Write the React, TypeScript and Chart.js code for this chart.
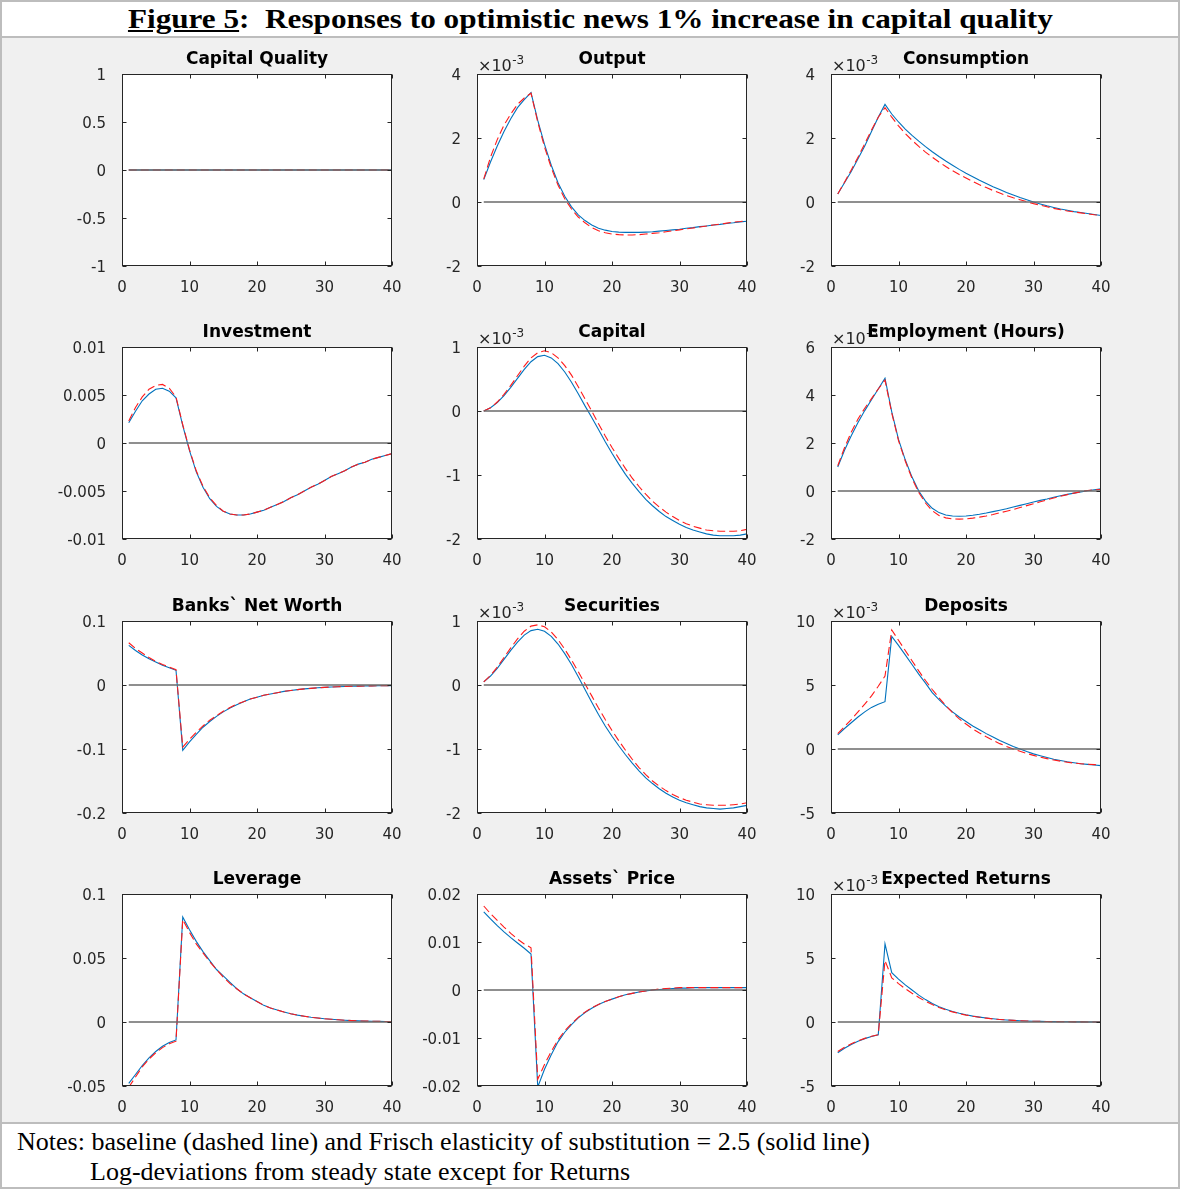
import React, { useEffect, useRef } from 'react';
import { Chart, registerables } from 'chart.js';

Chart.register(...registerables);

const SANS = '"DejaVu Sans", "Liberation Sans", Arial, sans-serif';
const SERIF = '"Liberation Serif", "DejaVu Serif", serif';

// ---------- data ----------
const periods = [1, 2, 3, 4, 5, 6, 7, 8, 9, 10, 11, 12, 13, 14, 15, 16, 17, 18, 19, 20,
  21, 22, 23, 24, 25, 26, 27, 28, 29, 30, 31, 32, 33, 34, 35, 36, 37, 38, 39, 40];
const xTicks = [0, 10, 20, 30, 40];

// Capital Quality
const capQualBase = [0, 0, 0, 0, 0, 0, 0, 0, 0, 0, 0, 0, 0, 0, 0, 0, 0, 0, 0, 0,
  0, 0, 0, 0, 0, 0, 0, 0, 0, 0, 0, 0, 0, 0, 0, 0, 0, 0, 0, 0];
const capQualFrisch = [0, 0, 0, 0, 0, 0, 0, 0, 0, 0, 0, 0, 0, 0, 0, 0, 0, 0, 0, 0,
  0, 0, 0, 0, 0, 0, 0, 0, 0, 0, 0, 0, 0, 0, 0, 0, 0, 0, 0, 0];
const capQualTicks = [-1, -0.5, 0, 0.5, 1];

// Output (x 10^-3)
const outputBase = [0.72, 1.4, 1.95, 2.4, 2.75, 3.05, 3.25, 3.4, 2.5, 1.72, 1.07, 0.53, 0.1, -0.22, -0.47, -0.65,
  -0.8, -0.9, -0.96, -1.0, -1.02, -1.03, -1.03, -1.02, -1.0, -0.98, -0.96, -0.93, -0.9, -0.87, -0.84, -0.81,
  -0.78, -0.75, -0.72, -0.69, -0.66, -0.63, -0.61, -0.58];
const outputFrisch = [0.7, 1.25, 1.75, 2.2, 2.6, 2.95, 3.2, 3.42, 2.55, 1.8, 1.15, 0.6, 0.18, -0.15, -0.4, -0.58,
  -0.72, -0.82, -0.88, -0.92, -0.94, -0.95, -0.95, -0.95, -0.94, -0.93, -0.91, -0.89, -0.87, -0.85, -0.82, -0.8,
  -0.77, -0.75, -0.72, -0.7, -0.67, -0.65, -0.62, -0.6];
const outputTicks = [-2, 0, 2, 4];

// Consumption (x 10^-3)
const consBase = [0.25, 0.62, 1.0, 1.4, 1.82, 2.25, 2.65, 2.95, 2.65, 2.38, 2.14, 1.93, 1.74, 1.56, 1.4, 1.25,
  1.11, 0.98, 0.86, 0.75, 0.64, 0.54, 0.45, 0.36, 0.28, 0.2, 0.13, 0.07, 0.01, -0.05, -0.1, -0.15,
  -0.2, -0.24, -0.28, -0.31, -0.34, -0.37, -0.4, -0.42];
const consFrisch = [0.25, 0.6, 0.95, 1.35, 1.75, 2.2, 2.65, 3.05, 2.75, 2.5, 2.28, 2.08, 1.9, 1.73, 1.57, 1.42,
  1.28, 1.15, 1.02, 0.9, 0.79, 0.68, 0.58, 0.48, 0.39, 0.3, 0.22, 0.14, 0.07, 0.0, -0.06, -0.12,
  -0.17, -0.22, -0.26, -0.3, -0.33, -0.36, -0.39, -0.42];
const consTicks = [-2, 0, 2, 4];

// Investment
const invBase = [0.0023, 0.0037, 0.0048, 0.0056, 0.006, 0.0061, 0.0057, 0.0048, 0.0019, -0.0007, -0.0029, -0.0045,
  -0.0057, -0.0065, -0.0071, -0.0074, -0.0075, -0.0075, -0.0074, -0.0072, -0.007, -0.0067, -0.0064, -0.0061,
  -0.0057, -0.0054, -0.005, -0.0046, -0.0043, -0.0039, -0.0035, -0.0032, -0.0029, -0.0025, -0.0022, -0.002,
  -0.0017, -0.0015, -0.0013, -0.0011];
const invFrisch = [0.0021, 0.0033, 0.0044, 0.0051, 0.0056, 0.0057, 0.0054, 0.0047, 0.0018, -0.0008, -0.003, -0.0046,
  -0.0058, -0.0066, -0.0071, -0.0074, -0.0075, -0.0075, -0.0074, -0.0072, -0.007, -0.0067, -0.0064, -0.0061,
  -0.0057, -0.0054, -0.005, -0.0046, -0.0043, -0.0039, -0.0035, -0.0032, -0.0029, -0.0025, -0.0022, -0.002,
  -0.0017, -0.0015, -0.0013, -0.0011];
const invTicks = [-0.01, -0.005, 0, 0.005, 0.01];

// Capital (x 10^-3)
const capBase = [0.0, 0.05, 0.14, 0.26, 0.4, 0.55, 0.7, 0.83, 0.91, 0.94, 0.91, 0.83, 0.71, 0.56, 0.38, 0.19,
  0.0, -0.2, -0.39, -0.57, -0.74, -0.9, -1.05, -1.18, -1.3, -1.41, -1.5, -1.58, -1.65, -1.71, -1.76, -1.8,
  -1.83, -1.86, -1.87, -1.88, -1.88, -1.88, -1.87, -1.85];
const capFrisch = [0.0, 0.05, 0.13, 0.24, 0.37, 0.51, 0.65, 0.77, 0.85, 0.87, 0.83, 0.74, 0.61, 0.45, 0.27, 0.08,
  -0.1, -0.29, -0.48, -0.66, -0.83, -0.99, -1.13, -1.26, -1.38, -1.48, -1.57, -1.65, -1.71, -1.77, -1.82, -1.86,
  -1.89, -1.92, -1.94, -1.95, -1.95, -1.95, -1.94, -1.92];
const capTicks = [-2, -1, 0, 1];

// Employment (Hours) (x 10^-3)
const empBase = [1.05, 1.8, 2.45, 3.0, 3.45, 3.85, 4.25, 4.62, 3.25, 2.1, 1.25, 0.52, -0.06, -0.5, -0.82, -1.02,
  -1.12, -1.16, -1.17, -1.16, -1.13, -1.09, -1.04, -0.98, -0.91, -0.84, -0.77, -0.69, -0.61, -0.53, -0.45, -0.37,
  -0.29, -0.22, -0.15, -0.09, -0.03, 0.02, 0.05, 0.06];
const empFrisch = [1.0, 1.7, 2.3, 2.85, 3.35, 3.8, 4.25, 4.7, 3.3, 2.15, 1.3, 0.58, 0.0, -0.42, -0.72, -0.9,
  -1.0, -1.04, -1.05, -1.04, -1.01, -0.97, -0.92, -0.86, -0.8, -0.74, -0.67, -0.6, -0.53, -0.46, -0.39, -0.33,
  -0.26, -0.2, -0.14, -0.09, -0.04, 0.01, 0.05, 0.09];
const empTicks = [-2, 0, 2, 4, 6];

// Banks` Net Worth
const banksBase = [0.066, 0.057, 0.05, 0.043, 0.037, 0.032, 0.028, 0.024, -0.097, -0.085, -0.074, -0.064, -0.055,
  -0.048, -0.041, -0.035, -0.03, -0.026, -0.022, -0.019, -0.016, -0.014, -0.012, -0.01, -0.0085, -0.0072, -0.0061,
  -0.0052, -0.0044, -0.0037, -0.0032, -0.0027, -0.0023, -0.002, -0.0017, -0.0015, -0.0013, -0.0011, -0.001, -0.0009];
const banksFrisch = [0.062, 0.054, 0.047, 0.041, 0.036, 0.031, 0.027, 0.023, -0.102, -0.089, -0.077, -0.066, -0.057,
  -0.049, -0.042, -0.036, -0.031, -0.026, -0.022, -0.019, -0.016, -0.014, -0.012, -0.01, -0.0085, -0.0072, -0.0061,
  -0.0052, -0.0044, -0.0037, -0.0032, -0.0027, -0.0023, -0.002, -0.0017, -0.0015, -0.0013, -0.0011, -0.001, -0.0009];
const banksTicks = [-0.2, -0.1, 0, 0.1];

// Securities (x 10^-3)
const secBase = [0.05, 0.15, 0.28, 0.43, 0.58, 0.72, 0.84, 0.92, 0.94, 0.91, 0.83, 0.71, 0.56, 0.39, 0.21, 0.02,
  -0.17, -0.36, -0.54, -0.71, -0.87, -1.02, -1.16, -1.29, -1.4, -1.5, -1.58, -1.65, -1.71, -1.76, -1.8, -1.83,
  -1.86, -1.87, -1.88, -1.88, -1.88, -1.87, -1.86, -1.84];
const secFrisch = [0.05, 0.14, 0.26, 0.4, 0.54, 0.67, 0.78, 0.85, 0.87, 0.84, 0.76, 0.64, 0.49, 0.32, 0.13, -0.07,
  -0.27, -0.46, -0.64, -0.8, -0.95, -1.09, -1.22, -1.34, -1.45, -1.54, -1.62, -1.69, -1.75, -1.8, -1.84, -1.87,
  -1.9, -1.92, -1.93, -1.94, -1.93, -1.92, -1.9, -1.88];
const secTicks = [-2, -1, 0, 1];

// Deposits (x 10^-3)
const depBase = [1.2, 1.75, 2.3, 2.9, 3.5, 4.15, 4.9, 5.7, 9.3, 8.5, 7.7, 6.9, 6.1, 5.35, 4.65, 4.0,
  3.4, 2.85, 2.35, 1.95, 1.57, 1.25, 0.95, 0.67, 0.42, 0.2, 0.0, -0.18, -0.35, -0.5, -0.63, -0.75,
  -0.86, -0.95, -1.03, -1.1, -1.15, -1.19, -1.22, -1.25];
const depFrisch = [1.1, 1.6, 2.05, 2.5, 2.9, 3.25, 3.5, 3.7, 8.8, 8.1, 7.35, 6.6, 5.85, 5.15, 4.4, 3.85,
  3.35, 2.9, 2.5, 2.15, 1.8, 1.5, 1.2, 0.93, 0.67, 0.43, 0.2, 0.0, -0.2, -0.38, -0.53, -0.67,
  -0.8, -0.9, -1.0, -1.08, -1.15, -1.2, -1.25, -1.3];
const depTicks = [-5, 0, 5, 10];

// Leverage
const levBase = [-0.051, -0.043, -0.035, -0.029, -0.024, -0.02, -0.017, -0.015, 0.08, 0.07, 0.061, 0.054, 0.047,
  0.041, 0.035, 0.03, 0.026, 0.022, 0.019, 0.016, 0.013, 0.011, 0.0093, 0.0078, 0.0065, 0.0054, 0.0045, 0.0037,
  0.0031, 0.0025, 0.0021, 0.0017, 0.0014, 0.0011, 0.0009, 0.0007, 0.0006, 0.0005, 0.0004, 0.0003];
const levFrisch = [-0.048, -0.041, -0.034, -0.028, -0.023, -0.019, -0.016, -0.014, 0.082, 0.072, 0.063, 0.055, 0.048,
  0.041, 0.036, 0.031, 0.026, 0.022, 0.019, 0.016, 0.013, 0.011, 0.0093, 0.0078, 0.0065, 0.0054, 0.0045, 0.0037,
  0.0031, 0.0025, 0.0021, 0.0017, 0.0014, 0.0011, 0.0009, 0.0007, 0.0006, 0.0005, 0.0004, 0.0003];
const levTicks = [-0.05, 0, 0.05, 0.1];

// Assets` Price
const priceBase = [0.0175, 0.0159, 0.0145, 0.0131, 0.0118, 0.0106, 0.0096, 0.0088, -0.0186, -0.0155, -0.0128,
  -0.0104, -0.0085, -0.007, -0.0057, -0.0046, -0.0037, -0.003, -0.0024, -0.0019, -0.0014, -0.001, -0.0007, -0.0004,
  -0.0002, 0.0, 0.0002, 0.0003, 0.0004, 0.0005, 0.0005, 0.0005, 0.0005, 0.0005, 0.0005, 0.0005, 0.0005, 0.0005,
  0.0005, 0.0005];
const priceFrisch = [0.0163, 0.0148, 0.0134, 0.0121, 0.0109, 0.0098, 0.0087, 0.0075, -0.0202, -0.0165, -0.0135,
  -0.0108, -0.0088, -0.0072, -0.0058, -0.0047, -0.0038, -0.003, -0.0024, -0.0019, -0.0014, -0.001, -0.0007, -0.0004,
  -0.0002, 0.0, 0.0001, 0.0002, 0.0003, 0.0004, 0.0004, 0.0005, 0.0005, 0.0005, 0.0005, 0.0005, 0.0005, 0.0005,
  0.0005, 0.0005];
const priceTicks = [-0.02, -0.01, 0, 0.01, 0.02];

// Expected Returns (x 10^-3)
const retBase = [-2.3, -1.98, -1.7, -1.47, -1.28, -1.12, -1.0, 4.8, 3.45, 3.0, 2.6, 2.25, 1.92, 1.62, 1.36, 1.14,
  0.95, 0.79, 0.65, 0.54, 0.45, 0.37, 0.3, 0.24, 0.2, 0.16, 0.13, 0.1, 0.08, 0.06, 0.05, 0.04,
  0.03, 0.02, 0.02, 0.01, 0.01, 0.0, 0.0, 0.0];
const retFrisch = [-2.4, -2.05, -1.75, -1.5, -1.3, -1.13, -1.0, 6.1, 3.85, 3.35, 2.9, 2.5, 2.1, 1.75, 1.45, 1.2,
  0.99, 0.82, 0.68, 0.56, 0.46, 0.38, 0.31, 0.25, 0.2, 0.16, 0.13, 0.1, 0.08, 0.06, 0.05, 0.04,
  0.03, 0.02, 0.02, 0.01, 0.01, 0.0, 0.0, 0.0];
const retTicks = [-5, 0, 5, 10];

const zeroLine = periods.map(() => 0);

type Spec = { title: string; base: number[]; frisch: number[]; ticks: number[]; exponent: string | null };

const panels: Spec[] = [
  { title: 'Capital Quality', base: capQualBase, frisch: capQualFrisch, ticks: capQualTicks, exponent: null },
  { title: 'Output', base: outputBase, frisch: outputFrisch, ticks: outputTicks, exponent: '-3' },
  { title: 'Consumption', base: consBase, frisch: consFrisch, ticks: consTicks, exponent: '-3' },
  { title: 'Investment', base: invBase, frisch: invFrisch, ticks: invTicks, exponent: null },
  { title: 'Capital', base: capBase, frisch: capFrisch, ticks: capTicks, exponent: '-3' },
  { title: 'Employment (Hours)', base: empBase, frisch: empFrisch, ticks: empTicks, exponent: '-3' },
  { title: 'Banks` Net Worth', base: banksBase, frisch: banksFrisch, ticks: banksTicks, exponent: null },
  { title: 'Securities', base: secBase, frisch: secFrisch, ticks: secTicks, exponent: '-3' },
  { title: 'Deposits', base: depBase, frisch: depFrisch, ticks: depTicks, exponent: '-3' },
  { title: 'Leverage', base: levBase, frisch: levFrisch, ticks: levTicks, exponent: null },
  { title: 'Assets` Price', base: priceBase, frisch: priceFrisch, ticks: priceTicks, exponent: null },
  { title: 'Expected Returns', base: retBase, frisch: retFrisch, ticks: retTicks, exponent: '-3' },
];

// ---------- layout ----------
const COL_LEFT = [122, 477, 831];
const ROW_TOP = [74, 347, 621, 894];
const PLOT_W = 270;
const PLOT_H = 192;
const AXIS_W = 70;
const TITLE_H = 45;
const XAXIS_H = 35;
const PAD_R = 26;

const fmt = (v: number) => String(Math.round(v * 1e6) / 1e6);

function makeFramePlugin(exponent: string | null) {
  return {
    id: 'matlabFrame',
    beforeDraw(chart: any) {
      const { ctx, chartArea: a } = chart;
      ctx.save();
      ctx.fillStyle = '#ffffff';
      ctx.fillRect(a.left, a.top, a.right - a.left, a.bottom - a.top);
      if (exponent) {
        ctx.fillStyle = '#262626';
        ctx.textAlign = 'left';
        ctx.textBaseline = 'alphabetic';
        ctx.font = `16px ${SANS}`;
        const base = '\u00d710';
        ctx.fillText(base, a.left + 1, a.top - 3);
        const w = ctx.measureText(base).width;
        ctx.font = `12px ${SANS}`;
        ctx.fillText(exponent, a.left + 1 + w + 0.5, a.top - 10);
      }
      ctx.restore();
    },
    afterDraw(chart: any) {
      const { ctx, chartArea: a, scales } = chart;
      ctx.save();
      ctx.strokeStyle = '#262626';
      ctx.lineWidth = 1;
      const L = Math.round(a.left) + 0.5;
      const R = Math.round(a.right) - 0.5;
      const T = Math.round(a.top) + 0.5;
      const B = Math.round(a.bottom) - 0.5;
      ctx.strokeRect(L, T, R - L, B - T);
      const tl = 4;
      ctx.beginPath();
      for (const t of scales.x.ticks) {
        const px = Math.round(scales.x.getPixelForValue(t.value)) + 0.5;
        ctx.moveTo(px, B); ctx.lineTo(px, B - tl);
        ctx.moveTo(px, T); ctx.lineTo(px, T + tl);
      }
      for (const t of scales.y.ticks) {
        const py = Math.round(scales.y.getPixelForValue(t.value)) + 0.5;
        ctx.moveTo(L, py); ctx.lineTo(L + tl, py);
        ctx.moveTo(R, py); ctx.lineTo(R - tl, py);
      }
      ctx.stroke();
      ctx.restore();
    },
  };
}

function Panel({ spec, left, top }: { spec: Spec; left: number; top: number }) {
  const ref = useRef<HTMLCanvasElement | null>(null);
  useEffect(() => {
    if (!ref.current) return;
    const pts = (arr: number[]) => periods.map((p, i) => ({ x: p, y: arr[i] }));
    const tickFont = { family: SANS, size: 15 };
    const chart = new Chart(ref.current, {
      type: 'line',
      data: {
        datasets: [
          { label: 'zero', data: pts(zeroLine), borderColor: '#6a6a6a', borderWidth: 1.7, pointRadius: 0, fill: false },
          { label: 'baseline', data: pts(spec.base), borderColor: '#ff1a1a', borderWidth: 1.1, borderDash: [8, 4], pointRadius: 0, fill: false },
          { label: 'Frisch 2.5', data: pts(spec.frisch), borderColor: '#0072bd', borderWidth: 1.1, pointRadius: 0, fill: false },
        ],
      },
      options: {
        animation: false,
        responsive: false,
        maintainAspectRatio: false,
        devicePixelRatio: 1,
        layout: { padding: { left: 0, right: PAD_R, top: 0, bottom: 0 } },
        plugins: {
          legend: { display: false },
          tooltip: { enabled: false },
          title: {
            display: true,
            text: spec.title,
            fullSize: false,
            color: '#000000',
            font: { family: SANS, size: 17, weight: 'bold', lineHeight: 1 },
            padding: { top: TITLE_H - 17 - 6, bottom: 6 },
          },
        },
        scales: {
          x: {
            type: 'linear',
            min: 0,
            max: 40,
            afterBuildTicks: (s: any) => { s.ticks = xTicks.map((v) => ({ value: v })); },
            afterFit: (s: any) => { s.height = XAXIS_H; },
            grid: { display: false },
            border: { display: false },
            ticks: { padding: 5, color: '#262626', font: tickFont, maxRotation: 0, autoSkip: false, callback: (v: any) => fmt(Number(v)) },
          },
          y: {
            type: 'linear',
            min: spec.ticks[0],
            max: spec.ticks[spec.ticks.length - 1],
            afterBuildTicks: (s: any) => { s.ticks = spec.ticks.map((v) => ({ value: v })); },
            afterFit: (s: any) => { s.width = AXIS_W; },
            grid: { display: false },
            border: { display: false },
            ticks: { padding: 8, labelOffset: 2, color: '#262626', font: tickFont, autoSkip: false, callback: (v: any) => fmt(Number(v)) },
          },
        },
      },
      plugins: [makeFramePlugin(spec.exponent)],
    } as any);
    return () => chart.destroy();
  }, [spec]);
  const w = AXIS_W + PLOT_W + PAD_R;
  const h = TITLE_H + PLOT_H + XAXIS_H;
  return (
    <canvas
      ref={ref}
      width={w}
      height={h}
      style={{ position: 'absolute', left: left - AXIS_W, top: top - TITLE_H, width: w, height: h }}
    />
  );
}

export default function App() {
  const border = '#bdbdbd';
  return (
    <div style={{ position: 'absolute', left: 0, top: 0, width: 1180, height: 1190, background: '#ffffff', overflow: 'hidden' }}>
      {/* outer frame */}
      <div style={{ position: 'absolute', left: 0, top: 0, width: 1180, height: 1189, boxSizing: 'border-box', border: `2px solid ${border}` }} />
      {/* title */}
      <div style={{ position: 'absolute', left: 2, top: 2, width: 1176, height: 34, lineHeight: '34px', textAlign: 'center', fontFamily: SERIF, fontWeight: 'bold', fontSize: 27, color: '#000', whiteSpace: 'pre' }}>
        <span style={{ display: 'inline-block', transform: 'scaleX(1.155)', transformOrigin: 'center' }}>
          <span style={{ textDecoration: 'underline' }}>Figure 5</span>{':  Responses to optimistic news 1% increase in capital quality'}
        </span>
      </div>
      <div style={{ position: 'absolute', left: 0, top: 36, width: 1180, height: 2, background: border }} />
      {/* grey panel */}
      <div style={{ position: 'absolute', left: 2, top: 38, width: 1176, height: 1084, background: '#f0f0f0' }} />
      <div style={{ position: 'absolute', left: 0, top: 1122, width: 1180, height: 2, background: border }} />
      {panels.map((p, i) => (
        <Panel key={p.title} spec={p} left={COL_LEFT[i % 3]} top={ROW_TOP[Math.floor(i / 3)]} />
      ))}
      {/* notes */}
      <div style={{ position: 'absolute', left: 17, top: 1127, fontFamily: SERIF, fontSize: 26, lineHeight: '30px', color: '#000', whiteSpace: 'pre' }}>
        Notes: baseline (dashed line) and Frisch elasticity of substitution = 2.5 (solid line)
      </div>
      <div style={{ position: 'absolute', left: 90, top: 1157, fontFamily: SERIF, fontSize: 26, lineHeight: '30px', color: '#000', whiteSpace: 'pre' }}>
        Log-deviations from steady state except for Returns
      </div>
    </div>
  );
}
